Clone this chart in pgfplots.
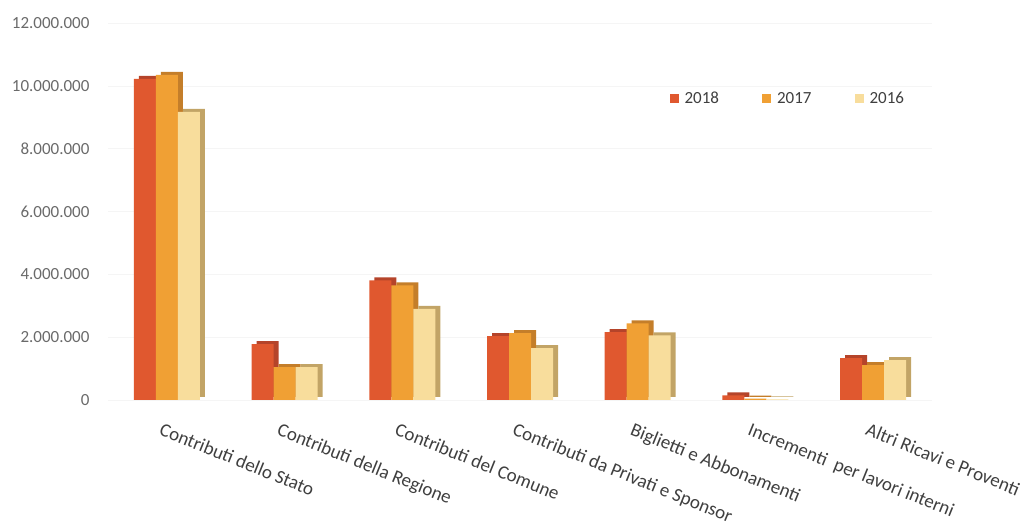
\documentclass[border=0pt]{standalone}
\usepackage{pgfplots}
\pgfplotsset{compat=1.18}
\usepackage{pgfplotstable}
\usepackage{fontspec}
\setmainfont{Carlito}

\definecolor{c18}{HTML}{E0582F}
\definecolor{c18s}{HTML}{B5442A}
\definecolor{c17}{HTML}{F0A034}
\definecolor{c17s}{HTML}{C47E2A}
\definecolor{c16}{HTML}{F8DD9C}
\definecolor{c16s}{HTML}{C2A466}
\definecolor{ticktxt}{HTML}{6A6A6A}
\definecolor{cattxt}{HTML}{3F3F3F}

% Ricavi per voce, in euro
\pgfplotstableread{
cat y2018 y2017 y2016
0 10220000 10350000 9170000
1 1780000 1050000 1050000
2 3810000 3650000 2900000
3 2030000 2130000 1650000
4 2160000 2440000 2060000
5 150000 40000 20000
6 1330000 1110000 1270000
}\ricavi

\begin{document}
\begin{tikzpicture}
\useasboundingbox (-108pt,-126pt) rectangle (919pt,400pt);
\begin{axis}[
  at={(0,0)}, anchor=south west,
  scale only axis, width=824pt, height=377pt,
  ybar, bar width=22pt,
  xmin=-0.5, xmax=6.5, ymin=0, ymax=12000000,
  xtick={0,...,6},
  xticklabels={Contributi dello Stato, Contributi della Regione, Contributi del Comune, Contributi da Privati e Sponsor, Biglietti e Abbonamenti, Incrementi\ \ per lavori interni, Altri Ricavi e Proventi},
  ytick={0,2000000,...,12000000},
  scaled y ticks=false,
  /pgf/number format/.cd, fixed, 1000 sep={.}, assume math mode=true, /pgfplots/.cd,
  axis line style={draw=none},
  major tick length=0pt,
  ymajorgrids, grid style={black!4},
  yticklabel style={font=\fontsize{17}{19}\selectfont, text=ticktxt, anchor=east, xshift=-15pt},
  xticklabel style={font=\fontsize{19}{21}\selectfont, text=cattxt, rotate=-22, anchor=north west, inner sep=0pt, xshift=5pt, yshift=-22pt},
  legend columns=3,
  legend style={draw=none, fill=none, at={(0.825,0.80)}, anchor=center,
    font=\fontsize{17}{19}\selectfont, text=cattxt,
    /tikz/every odd column/.append style={column sep=4pt},
    /tikz/every even column/.append style={column sep=41pt}},
  legend image code/.code={\fill[#1] (0pt,-4.5pt) rectangle (9pt,4.5pt);},
]
\addplot[forget plot, fill=c18s, draw=none, bar shift=-22pt, xshift=5pt, yshift=3pt] table[x=cat, y=y2018] {\ricavi};
\addplot[fill=c18, draw=none, bar shift=-22pt] table[x=cat, y=y2018] {\ricavi};
\addplot[forget plot, fill=c17s, draw=none, bar shift=0pt, xshift=5pt, yshift=3pt] table[x=cat, y=y2017] {\ricavi};
\addplot[fill=c17, draw=none, bar shift=0pt] table[x=cat, y=y2017] {\ricavi};
\addplot[forget plot, fill=c16s, draw=none, bar shift=22pt, xshift=5pt, yshift=3pt] table[x=cat, y=y2016] {\ricavi};
\addplot[fill=c16, draw=none, bar shift=22pt] table[x=cat, y=y2016] {\ricavi};
\legend{2018, 2017, 2016}
\end{axis}
\end{tikzpicture}
\end{document}
